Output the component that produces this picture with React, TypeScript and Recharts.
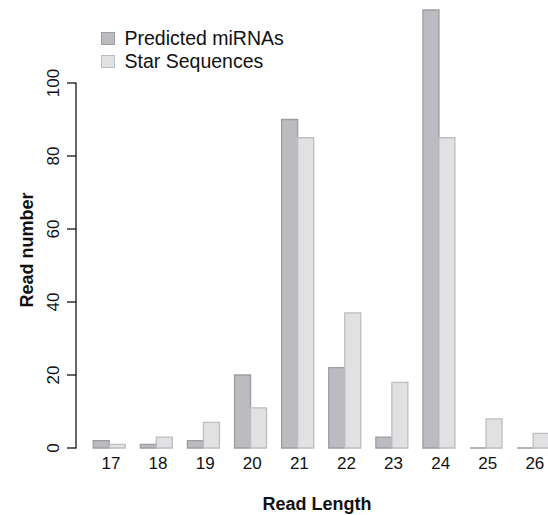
import { BarChart, Bar, XAxis, YAxis } from "recharts";

const lengths = ["17", "18", "19", "20", "21", "22", "23", "24", "25", "26"];
const predicted = [2, 1, 2, 20, 90, 22, 3, 120, 0, 0];
const star = [1, 3, 7, 11, 85, 37, 18, 85, 8, 4];
const yTicks = [0, 20, 40, 60, 80, 100];

const data = lengths.map((len, i) => ({ len, predicted: predicted[i], star: star[i] }));

const W = 560;
const H = 515;
const X_AXIS_H = 67;
const TOP = 10;
const PX_PER_UNIT = (H - TOP - X_AXIS_H) / 120;
const FONT = "'Liberation Sans', Arial, Helvetica, sans-serif";

const PRED_FILL = "#bcbcc0";
const PRED_STROKE = "#9d9da1";
const STAR_FILL = "#e1e1e3";
const STAR_STROKE = "#bebec1";

// bars as paths so zero-height bars still show a flat line
function BarShape(props: any) {
  const { x, y, width, height, fill, stroke } = props;
  return (
    <path
      d={`M${x},${y}h${width}v${height}h${-width}Z`}
      fill={fill}
      stroke={stroke}
      strokeWidth={1.3}
    />
  );
}

// R-style y axis: line only from 0 to 100, rotated labels
function YTick(props: any) {
  const { x, y, payload } = props;
  const ax = x - 9.4;
  return (
    <g>
      {payload.value === 0 && (
        <line x1={ax} y1={y + 0.5} x2={ax} y2={y - 100 * PX_PER_UNIT - 0.5} stroke="#000" strokeWidth={1.2} />
      )}
      <line x1={ax} y1={y} x2={ax - 9} y2={y} stroke="#000" strokeWidth={1.2} />
      <text
        x={ax - 17.5}
        y={y}
        transform={`rotate(-90, ${ax - 17.5}, ${y})`}
        textAnchor="middle"
        fontSize={17}
        fontFamily={FONT}
        fill="#111"
      >
        {payload.value}
      </text>
    </g>
  );
}

function LegendBox() {
  const items = [
    { label: "Predicted miRNAs", fill: PRED_FILL, stroke: PRED_STROKE },
    { label: "Star Sequences", fill: STAR_FILL, stroke: STAR_STROKE },
  ];
  return (
    <div style={{ position: "absolute", left: 101, top: 27, fontFamily: FONT, fontSize: 19.5, color: "#111" }}>
      {items.map((it) => (
        <div key={it.label} style={{ display: "flex", alignItems: "center", height: 23 }}>
          <span
            style={{
              display: "inline-block",
              width: 11.5,
              height: 11.5,
              background: it.fill,
              border: `1.3px solid ${it.stroke}`,
              marginRight: 10,
            }}
          />
          {it.label}
        </div>
      ))}
    </div>
  );
}

export default function App() {
  return (
    <div style={{ position: "absolute", left: 0, top: 0, width: 548, height: 515, overflow: "hidden", background: "#fff" }}>
      <BarChart
        width={W}
        height={H}
        data={data}
        margin={{ top: TOP, right: 3.6, bottom: 0, left: 0 }}
        barCategoryGap="16.67%"
        barGap={0}
      >
        <XAxis
          dataKey="len"
          height={X_AXIS_H}
          axisLine={false}
          tickLine={false}
          tickSize={0}
          tickMargin={9}
          interval={0}
          tick={{ fontSize: 17, fontFamily: FONT, fill: "#111", dx: 2 }}
          label={{
            content: () => (
              <text x={317} y={510} textAnchor="middle" fontSize={18} fontWeight="bold" fontFamily={FONT} fill="#111">
                Read Length
              </text>
            ),
          }}
        />
        <YAxis
          width={85.4}
          domain={[0, 120]}
          ticks={yTicks}
          axisLine={false}
          tickLine={false}
          tickSize={0}
          tickMargin={0}
          tick={<YTick />}
          label={{
            content: () => (
              <text
                x={33}
                y={250}
                transform="rotate(-90, 33, 250)"
                textAnchor="middle"
                fontSize={18}
                fontWeight="bold"
                fontFamily={FONT}
                fill="#111"
              >
                Read number
              </text>
            ),
          }}
        />
        <Bar dataKey="predicted" fill={PRED_FILL} stroke={PRED_STROKE} shape={<BarShape />} isAnimationActive={false} />
        <Bar dataKey="star" fill={STAR_FILL} stroke={STAR_STROKE} shape={<BarShape />} isAnimationActive={false} />
      </BarChart>
      <LegendBox />
    </div>
  );
}
